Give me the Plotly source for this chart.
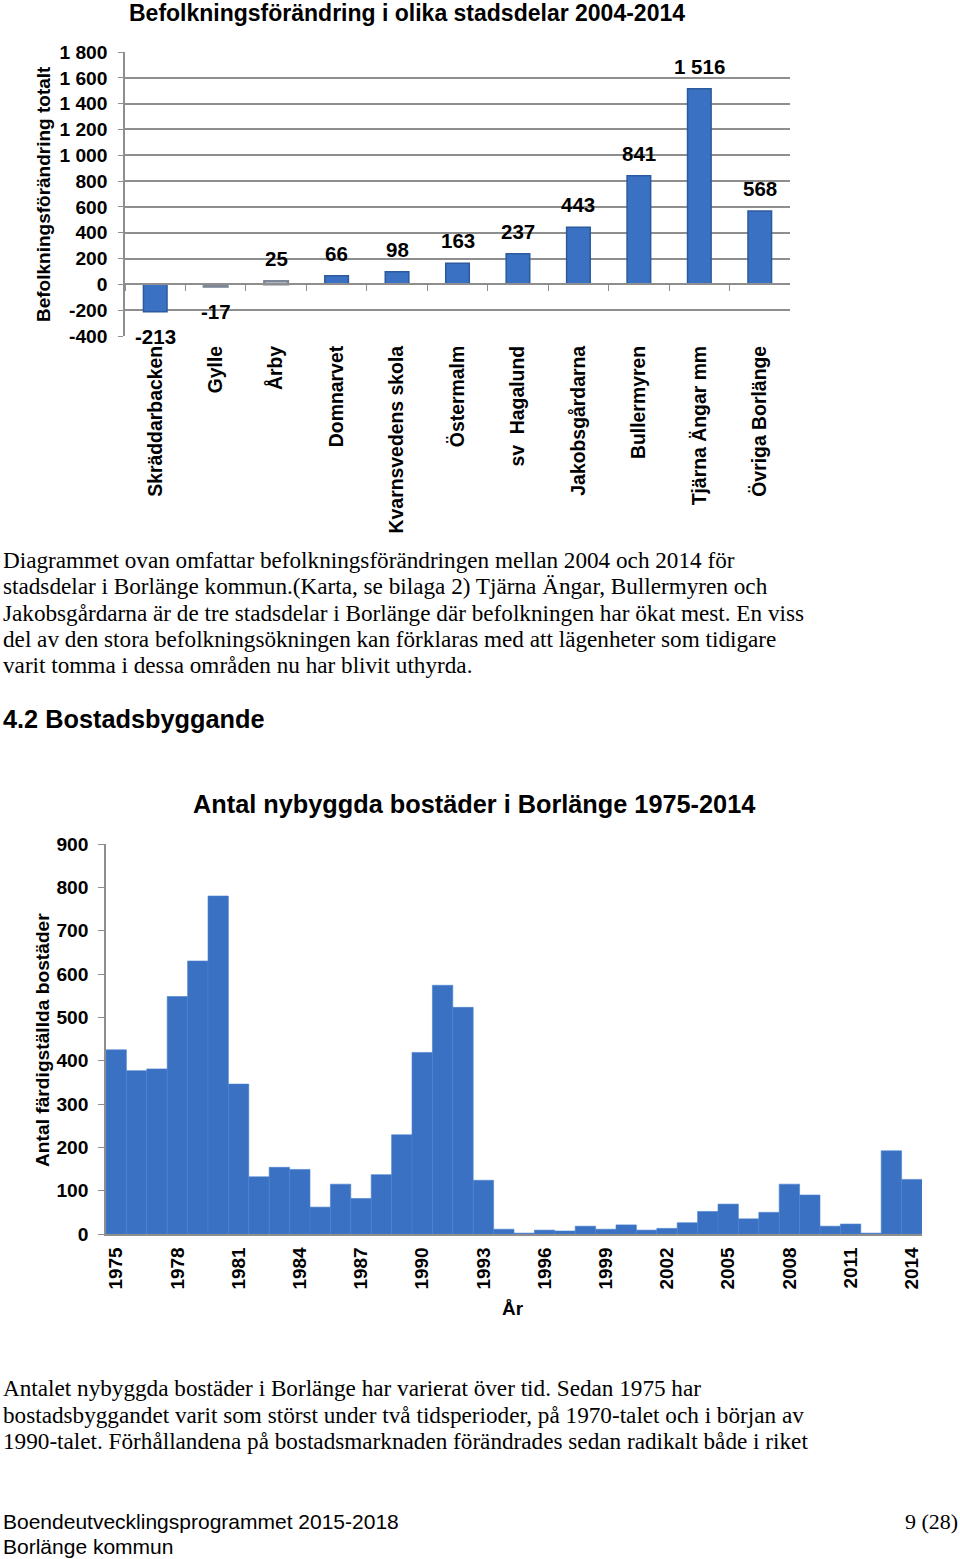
import plotly.graph_objects as go

# ---------------- data ----------------
districts = ["Skräddarbacken", "Gylle", "Årby", "Domnarvet", "Kvarnsvedens skola",
             "Östermalm", "sv\u00a0 Hagalund", "Jakobsgårdarna", "Bullermyren",
             "Tjärna Ängar mm", "Övriga Borlänge"]
pop_change = [-213, -17, 25, 66, 98, 163, 237, 443, 841, 1516, 568]
pop_labels = ["-213", "-17", "25", "66", "98", "163", "237", "443", "841", "1 516", "568"]
pop_tickvals = [-400, -200, 0, 200, 400, 600, 800, 1000, 1200, 1400, 1600, 1800]
pop_ticktext = ["-400", "-200", "0", "200", "400", "600", "800", "1 000", "1 200",
                "1 400", "1 600", "1 800"]

years = list(range(1975, 2015))
dwellings = [425, 377, 381, 548, 630, 780, 346, 132, 154, 149,
             62, 115, 82, 137, 229, 419, 574, 523, 124, 11,
             2, 9, 7, 18, 11, 21, 9, 13, 26, 52,
             69, 35, 50, 115, 90, 18, 23, 2, 192, 126]
year_ticks = years[::3]

para1 = [
    "Diagrammet ovan omfattar befolkningsförändringen mellan 2004 och 2014 för",
    "stadsdelar i Borlänge kommun.(Karta, se bilaga 2) Tjärna Ängar, Bullermyren och",
    "Jakobsgårdarna är de tre stadsdelar i Borlänge där befolkningen har ökat mest. En viss",
    "del av den stora befolkningsökningen kan förklaras med att lägenheter som tidigare",
    "varit tomma i dessa områden nu har blivit uthyrda.",
]
para2 = [
    "Antalet nybyggda bostäder i Borlänge har varierat över tid. Sedan 1975 har",
    "bostadsbyggandet varit som störst under två tidsperioder, på 1970-talet och i början av",
    "1990-talet. Förhållandena på bostadsmarknaden förändrades sedan radikalt både i riket",
]

# ---------------- layout helpers ----------------
W, H = 960, 1559
def px(x):
    return x / W
def py(y):
    return 1 - y / H

SANS = "Liberation Sans, Arial, sans-serif"
SERIF = "Liberation Serif, Times New Roman, serif"
GRID = "#8e8e8e"
BLUE = "#3a71c2"
BLUE_LINE = "#2c5a9e"

fig = go.Figure()

# ---- chart 1 ----
bar_colors = [("#e4e8ee" if abs(v) < 50 else BLUE) for v in pop_change]
bar_lines = [("#7d8797" if abs(v) < 50 else BLUE_LINE) for v in pop_change]
bar_line_w = [(2.5 if abs(v) < 50 else 1.5) for v in pop_change]
fig.add_trace(go.Bar(
    x=districts, y=pop_change, width=0.39,
    marker=dict(color=bar_colors, line=dict(color=bar_lines, width=bar_line_w)),
    xaxis="x", yaxis="y", showlegend=False, hoverinfo="x+y",
))
# invisible helper trace to carry the zero-line axis
fig.add_trace(go.Scatter(
    x=districts, y=pop_change, xaxis="x3", yaxis="y", mode="markers",
    marker=dict(opacity=0), showlegend=False, hoverinfo="skip",
))

# ---- chart 2 ----
fig.add_trace(go.Bar(
    x=years, y=dwellings, width=1.0,
    marker=dict(color=BLUE, line=dict(color="#4a82d0", width=0.6)),
    xaxis="x2", yaxis="y2", showlegend=False,
))

annotations = []
# value labels for chart 1
for d, v, t in zip(districts, pop_change, pop_labels):
    annotations.append(dict(
        x=d, y=v, xref="x", yref="y", text=t, showarrow=False,
        yanchor="bottom" if v >= 0 else "top", yshift=9 if v >= 0 else -11,
        font=dict(family=SANS, size=20.5, color="black", weight="bold"),
    ))

def txt(x, y, text, size, family=SANS, bold=False, xanchor="left", angle=0):
    annotations.append(dict(
        x=px(x), y=py(y), xref="paper", yref="paper", text=text, showarrow=False,
        xanchor=xanchor, yanchor="middle", textangle=angle,
        font=dict(family=family, size=size, color="black",
                  weight="bold" if bold else "normal"),
    ))

txt(407, 13, "Befolkningsförändring i olika stadsdelar 2004-2014", 23, bold=True, xanchor="center")
txt(43, 194, "Befolkningsförändring totalt", 19, bold=True, xanchor="center", angle=-90)
for i, line in enumerate(para1):
    txt(1, 560 + i * 26.3, line, 23.2, family=SERIF)
txt(1, 719, "4.2 Bostadsbyggande", 25.3, bold=True)
txt(474, 804, "Antal nybyggda bostäder i Borlänge 1975-2014", 25.3, bold=True, xanchor="center")
txt(42, 1040, "Antal färdigställda bostäder", 19.2, bold=True, xanchor="center", angle=-90)
txt(513, 1308, "År", 19, bold=True, xanchor="center")
for i, line in enumerate(para2):
    txt(1, 1388 + i * 26.5, line, 23.2, family=SERIF)
txt(1, 1521, "Boendeutvecklingsprogrammet 2015-2018", 21)
txt(1, 1546, "Borlänge kommun", 21)
txt(960, 1521, "9 (28)", 22, family=SERIF, xanchor="right")

tickfont = dict(family=SANS, size=19.2, color="black", weight="bold")

fig.update_layout(
    width=W, height=H, margin=dict(l=0, r=0, t=0, b=0, pad=0, autoexpand=False),
    paper_bgcolor="white", plot_bgcolor="white",
    showlegend=False, annotations=annotations,
    xaxis=dict(
        domain=[px(125), px(790)], anchor="y", type="category",
        categoryarray=districts, categoryorder="array", range=[-0.5, 10.5],
        showline=False, showgrid=False, ticks="", tickangle=-90,
        tickfont=dict(family=SANS, size=19.4, color="black", weight="bold"),
        ticklabelstandoff=5, fixedrange=True, automargin=False,
    ),
    xaxis3=dict(
        domain=[px(125), px(790)], overlaying="x", anchor="free", position=py(284),
        type="category", categoryarray=districts, categoryorder="array",
        range=[-0.5, 10.5], showline=True, linecolor=GRID, linewidth=1.5,
        ticks="outside", tickson="boundaries", ticklen=6, tickcolor=GRID,
        showticklabels=False, showgrid=False, fixedrange=True, automargin=False,
    ),
    yaxis=dict(
        domain=[py(336), py(52)], anchor="x", range=[-400, 1800],
        tickmode="array", tickvals=pop_tickvals, ticktext=pop_ticktext,
        showgrid=True, gridcolor=GRID, gridwidth=1.5, zeroline=False,
        showline=True, linecolor=GRID, linewidth=1.5,
        ticks="outside", ticklen=5, tickcolor=GRID, tickfont=tickfont,
        ticklabelstandoff=7, fixedrange=True, automargin=False,
    ),
    xaxis2=dict(
        domain=[px(106), px(922)], anchor="y2", range=[1974.5, 2014.5],
        tickmode="array", tickvals=year_ticks, ticktext=[str(y) for y in year_ticks],
        tickangle=-90, showline=True, linecolor=GRID, linewidth=1.5,
        showgrid=False, zeroline=False, ticks="",
        tickfont=dict(family=SANS, size=19, color="black", weight="bold"),
        ticklabelstandoff=4, fixedrange=True, automargin=False,
    ),
    yaxis2=dict(
        domain=[py(1234), py(844)], anchor="x2", range=[0, 900], dtick=100,
        showline=True, linecolor=GRID, linewidth=1.5, showgrid=False, zeroline=False,
        ticks="outside", ticklen=6, tickcolor=GRID, tickfont=tickfont,
        ticklabelstandoff=6, fixedrange=True, automargin=False,
    ),
)

fig.write_html(
    "out.html",
    config={"displayModeBar": False},
    post_script="document.body.style.margin='0';document.body.style.padding='0';"
                "document.documentElement.style.overflow='hidden';",
)
